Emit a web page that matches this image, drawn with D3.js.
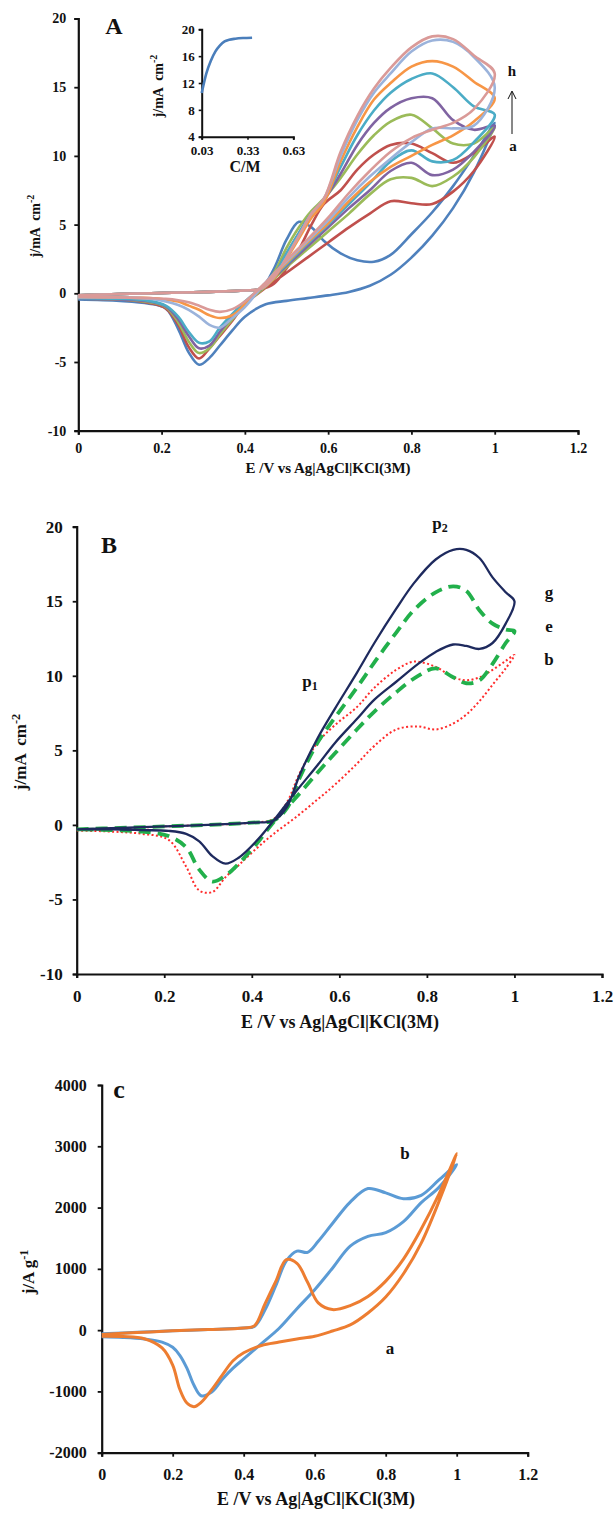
<!DOCTYPE html>
<html>
<head>
<meta charset="utf-8">
<script src="https://cdn.jsdelivr.net/npm/d3@7"></script>
<style>
    body { margin: 0; background: #fff; }
    text { font-family: "Liberation Serif", "Times New Roman", serif; font-weight: bold; fill: #111; }
</style>
</head>
<body>
<div id="wrapper"></div>
<script>
// ---- panel A : 8 CVs, forward sweep on potFwdA, reverse sweep on potRevA
const potFwdA = [0, 0.1, 0.2, 0.3, 0.4, 0.44, 0.47, 0.5, 0.53, 0.56, 0.59, 0.63, 0.67, 0.71, 0.75, 0.8, 0.85, 0.9, 0.95, 1];
const potRevA = [1, 0.95, 0.9, 0.85, 0.8, 0.75, 0.7, 0.65, 0.6, 0.55, 0.5, 0.45, 0.4, 0.37, 0.34, 0.315, 0.29, 0.265, 0.24, 0.21, 0.17, 0.1, 0];

const blueFwd   = [-0.15, -0.05, 0.02, 0.1, 0.2, 0.4, 1.8, 3.9, 5.2, 4.8, 3.8, 2.9, 2.4, 2.3, 2.8, 4.3, 5.9, 7.8, 10.0, 12.4];
const blueRev   = [12.4, 8.8, 6.2, 4.2, 2.6, 1.35, 0.55, 0.1, -0.15, -0.35, -0.55, -0.8, -1.7, -2.7, -3.8, -4.7, -5.2, -4.3, -2.6, -1.1, -0.75, -0.55, -0.45];
const redFwd    = [-0.15, -0.05, 0.02, 0.1, 0.2, 0.3, 0.7, 1.8, 3.2, 5.0, 6.5, 7.5, 9.0, 10.1, 10.8, 10.9, 10.2, 9.5, 10.2, 11.4];
const redRev    = [11.4, 8.9, 7.4, 6.5, 6.55, 6.7, 5.8, 4.8, 3.7, 2.6, 1.5, 0.4, -0.8, -2.0, -3.1, -4.0, -4.75, -3.9, -2.3, -1.1, -0.7, -0.45, -0.4];
const greenFwd  = [-0.15, -0.05, 0.02, 0.1, 0.2, 0.35, 1.5, 3.3, 4.8, 6.0, 6.9, 8.4, 10.1, 11.5, 12.5, 13.0, 12.0, 10.9, 10.9, 12.1];
const greenRev  = [12.1, 9.9, 8.5, 7.8, 8.4, 8.3, 7.2, 5.8, 4.5, 3.2, 1.9, 0.5, -0.8, -1.9, -3.0, -4.0, -4.35, -3.5, -2.1, -1.0, -0.65, -0.45, -0.4];
const purpleFwd = [-0.15, -0.05, 0.02, 0.1, 0.2, 0.35, 1.3, 2.9, 4.4, 5.8, 6.8, 8.7, 10.8, 12.4, 13.5, 14.2, 14.2, 12.6, 11.9, 12.2];
const purpleRev = [12.2, 10.3, 9.0, 8.6, 9.5, 8.9, 7.5, 6.2, 4.8, 3.4, 2.0, 0.6, -0.7, -1.7, -2.8, -3.8, -4.0, -3.1, -1.9, -0.95, -0.6, -0.45, -0.4];
const aquaFwd   = [-0.15, -0.05, 0.02, 0.1, 0.2, 0.35, 1.3, 2.9, 4.4, 5.8, 6.8, 9.2, 11.5, 13.3, 14.6, 15.6, 16.0, 15.0, 13.6, 13.0];
const aquaRev   = [13.0, 11.0, 9.7, 9.6, 10.4, 9.6, 8.0, 6.5, 5.0, 3.6, 2.1, 0.7, -0.6, -1.5, -2.5, -3.5, -3.6, -2.8, -1.7, -0.9, -0.55, -0.4, -0.35];
const orangeFwd = [-0.15, -0.05, 0.02, 0.1, 0.2, 0.35, 1.1, 2.5, 4.0, 5.5, 6.6, 9.6, 12.1, 14.1, 15.3, 16.5, 16.9, 16.5, 15.4, 14.2];
const orangeRev = [14.2, 12.5, 11.5, 10.8, 10.0, 9.2, 8.1, 6.7, 5.1, 3.7, 2.2, 0.7, -0.8, -1.6, -1.8, -1.6, -1.2, -0.9, -0.6, -0.45, -0.35, -0.3, -0.3];
const lblueFwd  = [-0.15, -0.05, 0.02, 0.1, 0.2, 0.35, 1.2, 2.6, 4.2, 5.8, 6.9, 10.0, 12.6, 14.6, 16.0, 17.6, 18.4, 18.3, 17.2, 15.0];
const lblueRev  = [15.0, 12.2, 12.0, 12.0, 11.0, 9.8, 8.5, 7.0, 5.3, 3.8, 2.3, 0.8, -1.0, -1.8, -2.5, -2.3, -1.7, -1.2, -0.85, -0.6, -0.4, -0.3, -0.3];
const pinkFwd   = [-0.15, -0.05, 0.02, 0.1, 0.2, 0.35, 1.2, 2.6, 4.2, 5.8, 6.9, 10.3, 12.9, 14.9, 16.4, 17.9, 18.7, 18.5, 17.3, 16.0];
const pinkRev   = [16.0, 13.4, 12.4, 11.9, 11.3, 10.3, 8.9, 7.3, 5.5, 3.9, 2.4, 0.8, -0.6, -1.15, -1.35, -1.2, -0.9, -0.65, -0.5, -0.4, -0.35, -0.3, -0.25];

const colorsA = ["#4F81BD", "#C0504D", "#9BBB59", "#8064A2", "#4BACC6", "#F79646", "#9BB3DB", "#DA9A98"];

// inset of panel A : peak current vs concentration
const concInset = [0.03, 0.06, 0.09, 0.12, 0.15, 0.18, 0.21, 0.25, 0.3, 0.36];
const jInset = [10.5, 13.4, 15.3, 16.7, 17.6, 18.2, 18.45, 18.6, 18.7, 18.75];

// ---- panel B : curves b, e, g
const potFwdB = [0, 0.1, 0.2, 0.3, 0.4, 0.45, 0.48, 0.51, 0.55, 0.59, 0.64, 0.68, 0.73, 0.77, 0.82, 0.86, 0.89, 0.92, 0.95, 0.98, 1];
const potRevB = [1, 0.98, 0.95, 0.92, 0.89, 0.86, 0.82, 0.78, 0.73, 0.68, 0.64, 0.59, 0.55, 0.5, 0.45, 0.41, 0.37, 0.34, 0.31, 0.28, 0.25, 0.21, 0.15, 0.08, 0];

const gFwd = [-0.3, -0.2, -0.1, 0.0, 0.15, 0.3, 1.2, 3.4, 5.8, 7.8, 10.2, 12.2, 14.5, 16.2, 17.8, 18.45, 18.45, 17.9, 16.6, 15.6, 15.0];
const gRev = [15.0, 13.5, 12.2, 11.8, 12.0, 12.1, 11.6, 10.8, 9.6, 8.4, 7.1, 5.5, 4.0, 2.2, 0.3, -1.1, -2.2, -2.6, -2.1, -1.1, -0.6, -0.4, -0.35, -0.3, -0.3];
const eFwd = [-0.3, -0.2, -0.1, 0.0, 0.15, 0.3, 1.1, 3.2, 5.5, 7.2, 9.2, 10.9, 12.9, 14.4, 15.6, 16.0, 15.7, 14.4, 13.5, 13.1, 13.0];
const eRev = [13.0, 12.2, 10.8, 9.7, 9.5, 9.9, 10.5, 10.0, 8.9, 7.6, 6.4, 4.8, 3.5, 1.8, 0.2, -1.3, -2.6, -3.4, -3.8, -3.0, -1.5, -0.75, -0.45, -0.35, -0.3];
const bFwd = [-0.35, -0.25, -0.1, 0.0, 0.15, 0.4, 1.5, 3.5, 5.5, 6.7, 7.9, 9.2, 10.4, 10.95, 10.6, 9.9, 9.7, 9.9, 10.4, 11.0, 11.4];
const bRev = [11.4, 10.5, 9.4, 8.3, 7.4, 6.8, 6.4, 6.6, 6.4, 5.3, 4.1, 2.7, 1.7, 0.5, -0.6, -1.6, -2.7, -3.5, -4.5, -4.4, -2.8, -1.0, -0.6, -0.45, -0.38];

// ---- panel C : curves a, b
const potFwdC = [0, 0.1, 0.2, 0.3, 0.4, 0.43, 0.46, 0.49, 0.52, 0.55, 0.58, 0.61, 0.65, 0.7, 0.75, 0.8, 0.85, 0.9, 0.95, 1];
const potRevC = [1, 0.95, 0.9, 0.85, 0.8, 0.75, 0.7, 0.65, 0.6, 0.55, 0.5, 0.45, 0.4, 0.37, 0.34, 0.31, 0.28, 0.26, 0.24, 0.22, 0.2, 0.17, 0.12, 0.06, 0];

const cbFwd = [-60, -35, -10, 10, 35, 60, 330, 720, 1130, 1290, 1270, 1450, 1740, 2090, 2310, 2240, 2145, 2200, 2450, 2700];
const cbRev = [2700, 2330, 2080, 1770, 1590, 1530, 1370, 1010, 660, 350, 30, -220, -470, -620, -800, -1010, -1070, -900, -620, -410, -280, -195, -145, -120, -110];
const caFwd = [-70, -40, -10, 10, 35, 70, 430, 790, 1150, 1090, 780, 445, 335, 400, 550, 800, 1160, 1650, 2220, 2880];
const caRev = [2880, 2100, 1420, 920, 540, 280, 85, -15, -100, -145, -195, -250, -370, -500, -730, -970, -1180, -1250, -1190, -965, -570, -290, -140, -105, -100];

const xTicks = [0, 0.2, 0.4, 0.6, 0.8, 1, 1.2];

function loop(fwdE, fwdJ, revE, revJ) {
    const pts = fwdE.map((e, i) => [e, fwdJ[i]]);
    return pts.concat(revE.slice(1).map((e, i) => [e, revJ[i + 1]]));
}

function makePanel(svg, dim) {
    const x = d3.scaleLinear().domain([0, 1.2]).range([dim.left, dim.right]);
    const y = d3.scaleLinear().domain(dim.yDomain).range([dim.bottom, dim.top]);
    const g = svg.append("g");

    g.append("g")
        .attr("transform", `translate(0,${dim.bottom})`)
        .call(d3.axisBottom(x).tickValues(xTicks).tickSize(4).tickPadding(dim.xPad).tickFormat(String));
    g.append("g")
        .attr("transform", `translate(${dim.left},0)`)
        .call(d3.axisLeft(y).tickValues(dim.yTicks).tickSize(4).tickPadding(dim.yPad).tickFormat(String));

    g.selectAll(".domain").attr("stroke-width", 2.2).attr("stroke", "#111");
    g.selectAll(".tick line").attr("stroke-width", 1.8).attr("stroke", "#111");
    g.selectAll(".tick text").style("font-size", dim.font + "px");

    const curve = d3.line()
        .x(d => x(d[0]))
        .y(d => y(d[1]))
        .curve(d3.curveCatmullRom.alpha(0.5));
    return { x, y, g, curve };
}

function supText(svg, x, y, size, main, sup, rotate) {
    const t = svg.append("text")
        .attr("text-anchor", "middle")
        .attr("dominant-baseline", "middle")
        .style("font-size", size + "px")
        .style("white-space", "pre")
        .attr("transform", `translate(${x},${y})` + (rotate ? " rotate(-90)" : ""));
    t.append("tspan").text(main);
    t.append("tspan").attr("dy", "-0.45em").style("font-size", (size * 0.72) + "px").text(sup);
    return t;
}

function label(svg, x, y, size, txt) {
    return svg.append("text")
        .attr("x", x).attr("y", y)
        .attr("text-anchor", "middle")
        .attr("dominant-baseline", "middle")
        .style("font-size", size + "px")
        .style("white-space", "pre")
        .text(txt);
}

function buildPlot() {
    const svg = d3.select("#wrapper").append("svg")
        .attr("width", 616)
        .attr("height", 1513);

    // ---------- panel A
    const pA = makePanel(svg, {
        left: 78.3, right: 578, top: 18.5, bottom: 430.7,
        yDomain: [-10, 20], yTicks: [-10, -5, 0, 5, 10, 15, 20],
        font: 14, xPad: 8, yPad: 8
    });
    const seriesA = [
        [blueFwd, blueRev], [redFwd, redRev], [greenFwd, greenRev], [purpleFwd, purpleRev],
        [aquaFwd, aquaRev], [orangeFwd, orangeRev], [lblueFwd, lblueRev], [pinkFwd, pinkRev]
    ];
    pA.g.append("g").selectAll("path")
        .data(seriesA)
        .enter()
        .append("path")
        .attr("d", d => pA.curve(loop(potFwdA, d[0], potRevA, d[1])))
        .attr("fill", "none")
        .attr("stroke", (d, i) => colorsA[i])
        .attr("stroke-width", 2.6);

    label(svg, 114, 28, 24, "A");
    label(svg, 512, 73, 15, "h");
    label(svg, 513, 148, 15, "a");
    svg.append("line").attr("x1", 512).attr("x2", 512).attr("y1", 134).attr("y2", 92)
        .attr("stroke", "#111").attr("stroke-width", 1);
    svg.append("path").attr("d", "M508,99 L512,91 L516,99")
        .attr("fill", "none").attr("stroke", "#111").attr("stroke-width", 1);
    supText(svg, 37, 226, 14, "j/mA  cm", "-2", true);
    label(svg, 328, 470, 15, "E /V vs Ag|AgCl|KCl(3M)");

    // inset
    const ix = d3.scaleLinear().domain([0.03, 0.63]).range([201.7, 293.3]);
    const iy = d3.scaleLinear().domain([4, 20]).range([136.7, 29.3]);
    const inset = svg.append("g");
    inset.append("g").attr("transform", "translate(0,136.7)")
        .call(d3.axisBottom(ix).tickValues([0.03, 0.33, 0.63]).tickSize(3).tickPadding(6).tickFormat(d3.format(".2f")));
    inset.append("g").attr("transform", "translate(201.7,0)")
        .call(d3.axisLeft(iy).tickValues([4, 8, 12, 16, 20]).tickSize(3).tickPadding(4).tickFormat(String));
    inset.selectAll(".domain").attr("stroke-width", 2).attr("stroke", "#111");
    inset.selectAll(".tick line").attr("stroke-width", 1.6).attr("stroke", "#111");
    inset.selectAll(".tick text").style("font-size", "13px");
    inset.append("path")
        .attr("d", d3.line().x(d => ix(d[0])).y(d => iy(d[1])).curve(d3.curveMonotoneX)(concInset.map((c, i) => [c, jInset[i]])))
        .attr("fill", "none")
        .attr("stroke", "#4A7EBB")
        .attr("stroke-width", 2.6);
    supText(svg, 160, 86, 14, "j/mA  cm", "-2", true);
    label(svg, 245, 168, 16, "C/M");

    // ---------- panel B
    const pB = makePanel(svg, {
        left: 76.7, right: 602, top: 526.7, bottom: 974,
        yDomain: [-10, 20], yTicks: [-10, -5, 0, 5, 10, 15, 20],
        font: 17, xPad: 12, yPad: 10
    });
    pB.g.append("path")
        .attr("d", pB.curve(loop(potFwdB, bFwd, potRevB, bRev)))
        .attr("fill", "none").attr("stroke", "#FF2B2B").attr("stroke-width", 2)
        .attr("stroke-dasharray", "2,2.4");
    pB.g.append("path")
        .attr("d", pB.curve(loop(potFwdB, eFwd, potRevB, eRev)))
        .attr("fill", "none").attr("stroke", "#22B04B").attr("stroke-width", 3.8)
        .attr("stroke-dasharray", "12,7");
    pB.g.append("path")
        .attr("d", pB.curve(loop(potFwdB, gFwd, potRevB, gRev)))
        .attr("fill", "none").attr("stroke", "#1E2A5E").attr("stroke-width", 2.3);

    label(svg, 109, 547, 24, "B");
    const p2 = label(svg, 440, 525, 17, "p");
    p2.append("tspan").attr("dy", "0.3em").style("font-size", "12px").text("2");
    const p1 = label(svg, 310, 683, 17, "p");
    p1.append("tspan").attr("dy", "0.3em").style("font-size", "12px").text("1");
    label(svg, 549, 594, 17, "g");
    label(svg, 549, 628, 17, "e");
    label(svg, 549, 661, 17, "b");
    supText(svg, 22, 752, 17, "j/mA  cm", "-2", true);
    label(svg, 340, 1024, 18, "E /V vs Ag|AgCl|KCl(3M)");

    // ---------- panel C
    const pC = makePanel(svg, {
        left: 101.7, right: 527.7, top: 1085, bottom: 1452.7,
        yDomain: [-2000, 4000], yTicks: [-2000, -1000, 0, 1000, 2000, 3000, 4000],
        font: 16, xPad: 12, yPad: 11
    });
    pC.g.append("path")
        .attr("d", pC.curve(loop(potFwdC, cbFwd, potRevC, cbRev)))
        .attr("fill", "none").attr("stroke", "#5B9BD5").attr("stroke-width", 3);
    pC.g.append("path")
        .attr("d", pC.curve(loop(potFwdC, caFwd, potRevC, caRev)))
        .attr("fill", "none").attr("stroke", "#ED7D31").attr("stroke-width", 3);

    label(svg, 119, 1092, 26, "c");
    label(svg, 405, 1155, 17, "b");
    label(svg, 390, 1350, 17, "a");
    supText(svg, 30, 1272, 17, "j/A g", "-1", true);
    label(svg, 316, 1501, 18, "E /V vs Ag|AgCl|KCl(3M)");
}

buildPlot();
</script>
</body>
</html>
